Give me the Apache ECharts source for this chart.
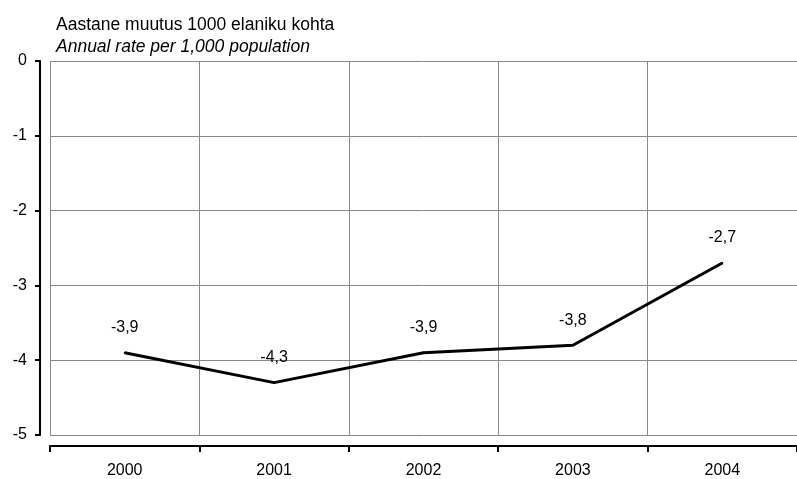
<!DOCTYPE html>
<html>
<head>
<meta charset="utf-8">
<script src="https://cdn.jsdelivr.net/npm/echarts@6/dist/echarts.min.js"></script>
<style>html,body{margin:0;padding:0;background:#fff}#c{width:797px;height:479px}</style>
</head>
<body>
<div id="c"></div>
<script>
var categories = ['2000', '2001', '2002', '2003', '2004'];
var values = [-3.9, -4.3, -3.9, -3.8, -2.7];
var yTicks = [0, -1, -2, -3, -4, -5];
var titleText = 'Aastane muutus 1000 elaniku kohta';
var subtitleText = 'Annual rate per 1,000 population';

var FONT = 'Liberation Sans, Arial, sans-serif';
var chart = echarts.init(document.getElementById('c'), null, {renderer: 'canvas'});
chart.setOption({
  animation: false,
  backgroundColor: '#fff',
  textStyle: {fontFamily: FONT},
  title: [
    {text: titleText, left: 51, top: 11, textStyle: {fontFamily: FONT, fontSize: 17.5, fontWeight: 'normal', color: '#000'}},
    {text: subtitleText, left: 51, top: 33, textStyle: {fontFamily: FONT, fontSize: 17.5, fontWeight: 'normal', fontStyle: 'italic', color: '#000'}}
  ],
  grid: {left: 50, top: 61, right: -10, bottom: 42, containLabel: false},
  xAxis: {
    type: 'category',
    data: categories,
    boundaryGap: true,
    offset: 11,
    axisLine: {show: true, onZero: false, lineStyle: {color: '#000', width: 2}},
    axisTick: {show: true, length: 6, inside: false, alignWithLabel: false, lineStyle: {color: '#000', width: 2}},
    axisLabel: {color: '#000', fontSize: 16, margin: 17, fontFamily: FONT},
    splitLine: {show: true, lineStyle: {color: '#888', width: 1}}
  },
  yAxis: {
    type: 'value',
    min: -5,
    max: 0,
    interval: 1,
    offset: 10,
    axisLine: {show: true, lineStyle: {color: '#000', width: 2}},
    axisTick: {show: true, length: 5, inside: false, lineStyle: {color: '#000', width: 2}},
    axisLabel: {color: '#000', fontSize: 16, margin: 13, fontFamily: FONT,
      formatter: function (v) { return yTicks.indexOf(v) >= 0 ? String(v) : ''; }},
    splitLine: {show: true, lineStyle: {color: '#888', width: 1}}
  },
  series: [{
    type: 'line',
    data: values,
    symbol: 'circle',
    symbolSize: 2,
    showSymbol: true,
    itemStyle: {color: '#000'},
    lineStyle: {color: '#000', width: 3},
    label: {
      show: true,
      position: 'top',
      distance: 16,
      color: '#000',
      fontSize: 16,
      fontFamily: FONT,
      formatter: function (p) { return String(p.value).replace('.', ','); }
    }
  }]
});
</script>
</body>
</html>
